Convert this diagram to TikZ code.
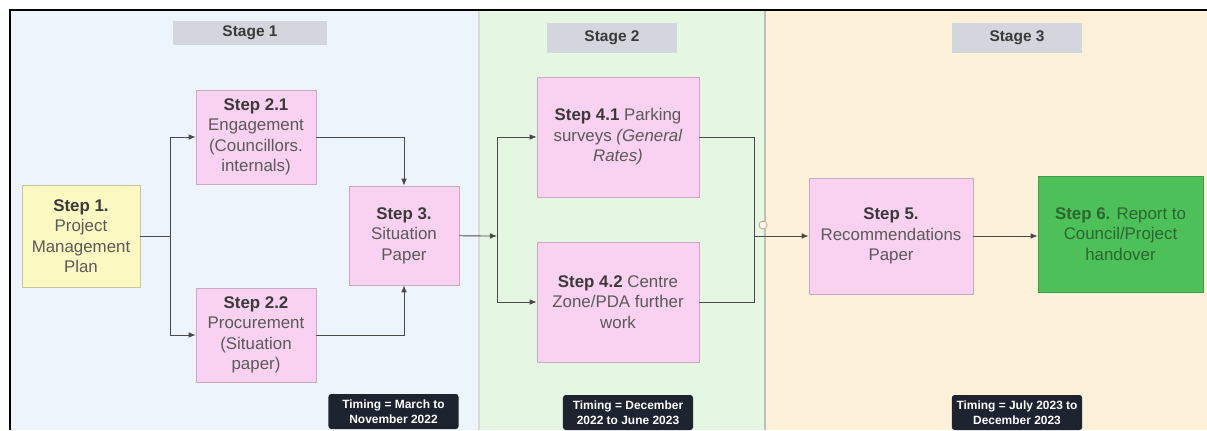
\documentclass[tikz,border=0pt]{standalone}
\usepackage{fontspec}
\setmainfont{Liberation Sans}
\usetikzlibrary{arrows.meta}

\definecolor{panelblue}{HTML}{EEF4FC}
\definecolor{panelgreen}{HTML}{E5F7E2}
\definecolor{panelcream}{HTML}{FEF1DA}
\definecolor{stagegrey}{HTML}{D3D6DC}
\definecolor{steppink}{HTML}{F9D1F1}
\definecolor{pinkedge}{HTML}{C9A9C3}
\definecolor{stepyellow}{HTML}{FCF8C2}
\definecolor{yellowedge}{HTML}{C9C69A}
\definecolor{stepgreen}{HTML}{4DC05A}
\definecolor{greenedge}{HTML}{3E9E48}
\definecolor{greentext}{HTML}{2C6630}
\definecolor{timingbg}{HTML}{1E2330}
\definecolor{bodytext}{HTML}{5A5A5A}
\definecolor{headtext}{HTML}{3A3A3A}
\definecolor{wirecol}{HTML}{4A4A4A}
\definecolor{jumpcol}{HTML}{D9A070}

\newcommand{\steplabel}[1]{\textbf{\color{headtext}#1}}

\tikzset{
  stepbox/.style={draw=pinkedge, fill=steppink, text=bodytext, align=center,
    font=\fontsize{12}{14.5}\selectfont, inner sep=2pt},
  stagebox/.style={fill=stagegrey, text=headtext, font=\fontsize{11}{13}\selectfont\bfseries},
  timebox/.style={fill=timingbg, text=white, rounded corners=2pt, align=center,
    font=\fontsize{8.5}{10.5}\selectfont\bfseries},
  wire/.style={draw=wirecol, line width=0.6pt},
  flow/.style={wire, -{Latex[length=5pt,width=4pt]}},
}

\begin{document}
\begin{tikzpicture}[x=0.025cm, y=-0.025cm]

      \useasboundingbox (0,0) rectangle (1207,430);
      \fill[white] (0,0) rectangle (1207,430);

      % stage panels
      \fill[panelblue] (10,10) rectangle (479,430);
      \fill[panelgreen] (479,10) rectangle (765,430);
      \fill[panelcream] (765,10) rectangle (1207,430);
      \draw[draw=black!15, line width=0.8pt] (479,10) -- (479,430);
      \draw[draw=black!25, line width=0.8pt] (765,10) -- (765,430);
      \draw[black, line width=1.4pt] (10,430) -- (10,10) -- (1207,10);

      \begin{scope}[every node/.style={stagebox, minimum width=3.25cm, minimum height=0.75cm}]
        \node[minimum width=3.85cm, minimum height=0.5cm] (stage1) at (250,33) {Stage 1};
        \node (stage2) at (612,38) {Stage 2};
        \node (stage3) at (1017,38) {Stage 3};
      \end{scope}

      \begin{scope}[every node/.style={stepbox}]
        \node[fill=stepyellow, draw=yellowedge, minimum width=2.95cm, minimum height=2.55cm]
          (s1) at (81,236) {\steplabel{Step 1.}\\Project\\Management\\Plan};
        \node[minimum width=3cm, minimum height=2.35cm]
          (s21) at (256,137) {\steplabel{Step 2.1}\\Engagement\\(Councillors.\\internals)};
        \node[minimum width=3cm, minimum height=2.35cm]
          (s22) at (256,335) {\steplabel{Step 2.2}\\Procurement\\(Situation\\paper)};
        \node[minimum width=2.75cm, minimum height=2.475cm]
          (s3) at (404,235.5) {\steplabel{Step 3.}\\Situation\\Paper};
        \node[minimum width=4.05cm, minimum height=3cm]
          (s41) at (618,137) {\steplabel{Step 4.1} Parking\\surveys \textit{(General}\\\textit{Rates)}};
        \node[minimum width=4.05cm, minimum height=3cm]
          (s42) at (618,302) {\steplabel{Step 4.2} Centre\\Zone/PDA further\\work};
        \node[minimum width=4.1cm, minimum height=2.9cm]
          (s5) at (891,236) {\steplabel{Step 5.}\\Recommendations\\Paper};
        \node[fill=stepgreen, draw=greenedge, text=greentext, minimum width=4.125cm, minimum height=2.9cm]
          (s6) at (1120.5,234) {\textbf{Step 6.} Report to\\Council/Project\\handover};
      \end{scope}

      \coordinate (split1) at (170,236);
      \coordinate (split2) at (497,236);
      \coordinate (merge2) at (754,236);

      \draw[wire] (s1) -- (split1);
      \draw[flow] (split1) |- (s21);
      \draw[flow] (split1) |- (s22);
      \draw[flow] (s21) -| (s3);
      \draw[flow] (s22) -| (s3);
      \draw[flow] (s3) -- (split2);
      \draw[flow] (split2) |- (s41);
      \draw[flow] (split2) |- (s42);
      \draw[wire] (s41) -| (merge2);
      \draw[wire] (s42) -| (merge2);
      \draw[flow] (merge2) -- (s5);
      \draw[flow] (s5.east) -- (s5.east -| s6.west);
      \draw[draw=jumpcol, fill=white, line width=0.6pt] (763,225) circle[radius=0.1cm];

      \begin{scope}[every node/.style={timebox, minimum width=3.25cm, minimum height=0.875cm}]
        \node (t1) at (393.5,411.5) {Timing = March to\\November 2022};
        \node (t2) at (628,412.5) {Timing = December\\2022 to June 2023};
        \node (t3) at (1017,412.5) {Timing = July 2023 to\\December 2023};
      \end{scope}

    \end{tikzpicture}
\end{document}
